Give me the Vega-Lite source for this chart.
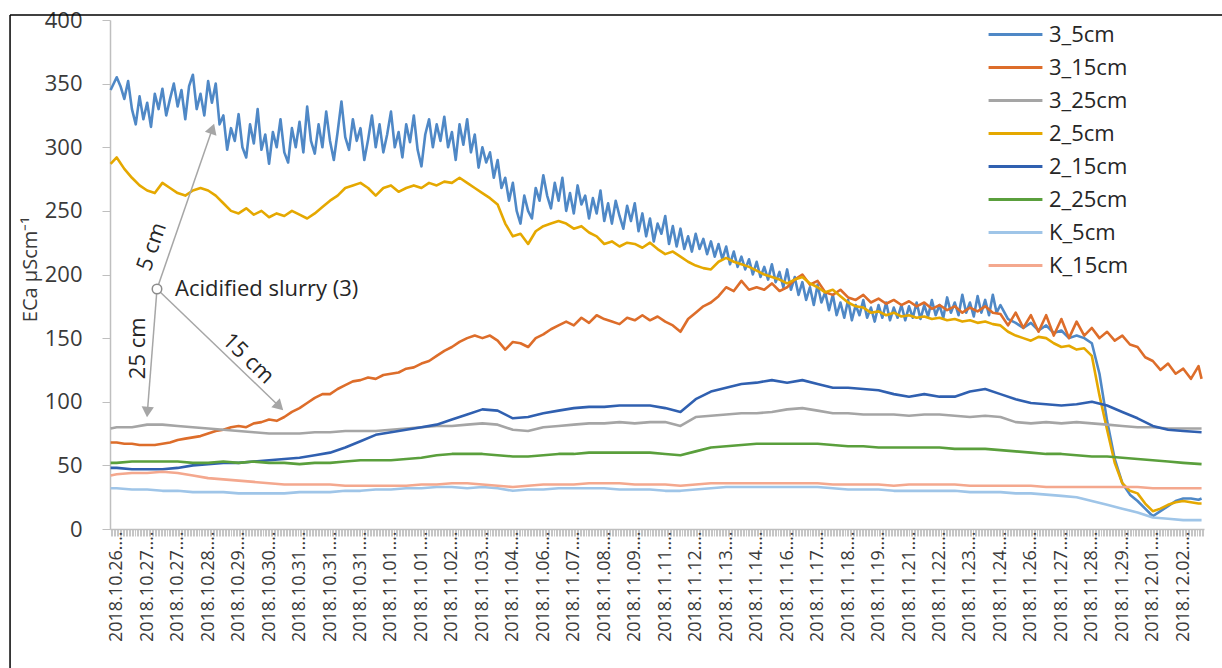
{
  "$schema": "https://vega.github.io/schema/vega-lite/v6.json",
  "width": 1094,
  "height": 509,
  "autosize": {"type": "none"},
  "padding": {"left": 110, "top": 20, "right": 18, "bottom": 139},
  "background": "white",
  "config": {"view": {"stroke": null}, "font": "Open Sans"},
  "datasets": {
    "blue": [
      {"u": -0.2, "3_5cm": 345}, {"u": 0, "3_5cm": 355}, {"u": 0.125, "3_5cm": 348}, {"u": 0.25, "3_5cm": 338},
      {"u": 0.375, "3_5cm": 352}, {"u": 0.5, "3_5cm": 330}, {"u": 0.625, "3_5cm": 318}, {"u": 0.75, "3_5cm": 340},
      {"u": 0.875, "3_5cm": 322}, {"u": 1, "3_5cm": 335}, {"u": 1.125, "3_5cm": 316}, {"u": 1.25, "3_5cm": 342},
      {"u": 1.375, "3_5cm": 330}, {"u": 1.5, "3_5cm": 346}, {"u": 1.625, "3_5cm": 325}, {"u": 1.75, "3_5cm": 338},
      {"u": 1.875, "3_5cm": 350}, {"u": 2, "3_5cm": 332}, {"u": 2.125, "3_5cm": 345}, {"u": 2.25, "3_5cm": 322},
      {"u": 2.375, "3_5cm": 348}, {"u": 2.5, "3_5cm": 357}, {"u": 2.625, "3_5cm": 330}, {"u": 2.75, "3_5cm": 342},
      {"u": 2.875, "3_5cm": 325}, {"u": 3, "3_5cm": 352}, {"u": 3.125, "3_5cm": 335}, {"u": 3.25, "3_5cm": 350},
      {"u": 3.375, "3_5cm": 318}, {"u": 3.5, "3_5cm": 325}, {"u": 3.625, "3_5cm": 298}, {"u": 3.75, "3_5cm": 315},
      {"u": 3.875, "3_5cm": 305}, {"u": 4, "3_5cm": 326}, {"u": 4.125, "3_5cm": 300}, {"u": 4.25, "3_5cm": 292},
      {"u": 4.375, "3_5cm": 318}, {"u": 4.5, "3_5cm": 303}, {"u": 4.625, "3_5cm": 330}, {"u": 4.75, "3_5cm": 298},
      {"u": 4.875, "3_5cm": 310}, {"u": 5, "3_5cm": 287}, {"u": 5.125, "3_5cm": 312}, {"u": 5.25, "3_5cm": 300},
      {"u": 5.375, "3_5cm": 322}, {"u": 5.5, "3_5cm": 296}, {"u": 5.625, "3_5cm": 288}, {"u": 5.75, "3_5cm": 315},
      {"u": 5.875, "3_5cm": 300}, {"u": 6, "3_5cm": 320}, {"u": 6.125, "3_5cm": 296}, {"u": 6.25, "3_5cm": 332},
      {"u": 6.375, "3_5cm": 305}, {"u": 6.5, "3_5cm": 295}, {"u": 6.625, "3_5cm": 318}, {"u": 6.75, "3_5cm": 300},
      {"u": 6.875, "3_5cm": 328}, {"u": 7, "3_5cm": 305}, {"u": 7.125, "3_5cm": 290}, {"u": 7.25, "3_5cm": 312},
      {"u": 7.375, "3_5cm": 336}, {"u": 7.5, "3_5cm": 308}, {"u": 7.625, "3_5cm": 298}, {"u": 7.75, "3_5cm": 322},
      {"u": 7.875, "3_5cm": 305}, {"u": 8, "3_5cm": 315}, {"u": 8.125, "3_5cm": 290}, {"u": 8.25, "3_5cm": 306},
      {"u": 8.375, "3_5cm": 325}, {"u": 8.5, "3_5cm": 300}, {"u": 8.625, "3_5cm": 318}, {"u": 8.75, "3_5cm": 296},
      {"u": 8.875, "3_5cm": 310}, {"u": 9, "3_5cm": 328}, {"u": 9.125, "3_5cm": 300}, {"u": 9.25, "3_5cm": 312},
      {"u": 9.375, "3_5cm": 292}, {"u": 9.5, "3_5cm": 318}, {"u": 9.625, "3_5cm": 304}, {"u": 9.75, "3_5cm": 325},
      {"u": 9.875, "3_5cm": 298}, {"u": 10, "3_5cm": 285}, {"u": 10.125, "3_5cm": 310}, {"u": 10.25, "3_5cm": 322},
      {"u": 10.375, "3_5cm": 300}, {"u": 10.5, "3_5cm": 318}, {"u": 10.625, "3_5cm": 305}, {"u": 10.75, "3_5cm": 324},
      {"u": 10.875, "3_5cm": 300}, {"u": 11, "3_5cm": 312}, {"u": 11.125, "3_5cm": 290}, {"u": 11.25, "3_5cm": 318},
      {"u": 11.375, "3_5cm": 302}, {"u": 11.5, "3_5cm": 322}, {"u": 11.625, "3_5cm": 296}, {"u": 11.75, "3_5cm": 310},
      {"u": 11.875, "3_5cm": 284}, {"u": 12, "3_5cm": 300}, {"u": 12.125, "3_5cm": 288}, {"u": 12.25, "3_5cm": 296},
      {"u": 12.375, "3_5cm": 276}, {"u": 12.5, "3_5cm": 290}, {"u": 12.625, "3_5cm": 268}, {"u": 12.75, "3_5cm": 276},
      {"u": 12.875, "3_5cm": 258}, {"u": 13, "3_5cm": 272}, {"u": 13.125, "3_5cm": 250}, {"u": 13.25, "3_5cm": 240},
      {"u": 13.375, "3_5cm": 262}, {"u": 13.5, "3_5cm": 250}, {"u": 13.625, "3_5cm": 244}, {"u": 13.75, "3_5cm": 268},
      {"u": 13.875, "3_5cm": 258}, {"u": 14, "3_5cm": 278}, {"u": 14.125, "3_5cm": 262}, {"u": 14.25, "3_5cm": 252},
      {"u": 14.375, "3_5cm": 272}, {"u": 14.5, "3_5cm": 258}, {"u": 14.625, "3_5cm": 276}, {"u": 14.75, "3_5cm": 250},
      {"u": 14.875, "3_5cm": 264}, {"u": 15, "3_5cm": 248}, {"u": 15.125, "3_5cm": 270}, {"u": 15.25, "3_5cm": 255},
      {"u": 15.375, "3_5cm": 262}, {"u": 15.5, "3_5cm": 244}, {"u": 15.625, "3_5cm": 260}, {"u": 15.75, "3_5cm": 248},
      {"u": 15.875, "3_5cm": 266}, {"u": 16, "3_5cm": 242}, {"u": 16.125, "3_5cm": 256}, {"u": 16.25, "3_5cm": 240},
      {"u": 16.375, "3_5cm": 258}, {"u": 16.5, "3_5cm": 246}, {"u": 16.625, "3_5cm": 236}, {"u": 16.75, "3_5cm": 254},
      {"u": 16.875, "3_5cm": 242}, {"u": 17, "3_5cm": 256}, {"u": 17.125, "3_5cm": 234}, {"u": 17.25, "3_5cm": 248},
      {"u": 17.375, "3_5cm": 230}, {"u": 17.5, "3_5cm": 244}, {"u": 17.625, "3_5cm": 226}, {"u": 17.75, "3_5cm": 240},
      {"u": 17.875, "3_5cm": 232}, {"u": 18, "3_5cm": 246}, {"u": 18.125, "3_5cm": 224}, {"u": 18.25, "3_5cm": 238},
      {"u": 18.375, "3_5cm": 222}, {"u": 18.5, "3_5cm": 236}, {"u": 18.625, "3_5cm": 220}, {"u": 18.75, "3_5cm": 230},
      {"u": 18.875, "3_5cm": 218}, {"u": 19, "3_5cm": 232}, {"u": 19.125, "3_5cm": 220}, {"u": 19.25, "3_5cm": 228},
      {"u": 19.375, "3_5cm": 216}, {"u": 19.5, "3_5cm": 226}, {"u": 19.625, "3_5cm": 214}, {"u": 19.75, "3_5cm": 224},
      {"u": 19.875, "3_5cm": 212}, {"u": 20, "3_5cm": 222}, {"u": 20.125, "3_5cm": 208}, {"u": 20.25, "3_5cm": 218},
      {"u": 20.375, "3_5cm": 206}, {"u": 20.5, "3_5cm": 214}, {"u": 20.625, "3_5cm": 204}, {"u": 20.75, "3_5cm": 212},
      {"u": 20.875, "3_5cm": 200}, {"u": 21, "3_5cm": 210}, {"u": 21.125, "3_5cm": 198}, {"u": 21.25, "3_5cm": 206},
      {"u": 21.375, "3_5cm": 196}, {"u": 21.5, "3_5cm": 208}, {"u": 21.625, "3_5cm": 194}, {"u": 21.75, "3_5cm": 202},
      {"u": 21.875, "3_5cm": 190}, {"u": 22, "3_5cm": 204}, {"u": 22.125, "3_5cm": 188}, {"u": 22.25, "3_5cm": 198},
      {"u": 22.375, "3_5cm": 184}, {"u": 22.5, "3_5cm": 194}, {"u": 22.625, "3_5cm": 180}, {"u": 22.75, "3_5cm": 190},
      {"u": 22.875, "3_5cm": 176}, {"u": 23, "3_5cm": 192}, {"u": 23.125, "3_5cm": 178}, {"u": 23.25, "3_5cm": 186},
      {"u": 23.375, "3_5cm": 172}, {"u": 23.5, "3_5cm": 184}, {"u": 23.625, "3_5cm": 168}, {"u": 23.75, "3_5cm": 178},
      {"u": 23.875, "3_5cm": 166}, {"u": 24, "3_5cm": 180}, {"u": 24.125, "3_5cm": 164}, {"u": 24.25, "3_5cm": 176},
      {"u": 24.375, "3_5cm": 168}, {"u": 24.5, "3_5cm": 180}, {"u": 24.625, "3_5cm": 166}, {"u": 24.75, "3_5cm": 174},
      {"u": 24.875, "3_5cm": 163}, {"u": 25, "3_5cm": 176}, {"u": 25.125, "3_5cm": 166}, {"u": 25.25, "3_5cm": 178},
      {"u": 25.375, "3_5cm": 164}, {"u": 25.5, "3_5cm": 174}, {"u": 25.625, "3_5cm": 166}, {"u": 25.75, "3_5cm": 176},
      {"u": 25.875, "3_5cm": 164}, {"u": 26, "3_5cm": 175}, {"u": 26.125, "3_5cm": 166}, {"u": 26.25, "3_5cm": 178},
      {"u": 26.375, "3_5cm": 165}, {"u": 26.5, "3_5cm": 176}, {"u": 26.625, "3_5cm": 167}, {"u": 26.75, "3_5cm": 180},
      {"u": 26.875, "3_5cm": 168}, {"u": 27, "3_5cm": 176}, {"u": 27.125, "3_5cm": 166}, {"u": 27.25, "3_5cm": 182},
      {"u": 27.375, "3_5cm": 170}, {"u": 27.5, "3_5cm": 178}, {"u": 27.625, "3_5cm": 168}, {"u": 27.75, "3_5cm": 184},
      {"u": 27.875, "3_5cm": 170}, {"u": 28, "3_5cm": 178}, {"u": 28.125, "3_5cm": 167}, {"u": 28.25, "3_5cm": 183},
      {"u": 28.375, "3_5cm": 170}, {"u": 28.5, "3_5cm": 180}, {"u": 28.625, "3_5cm": 168}, {"u": 28.75, "3_5cm": 184},
      {"u": 28.875, "3_5cm": 170}, {"u": 29, "3_5cm": 176}, {"u": 29.25, "3_5cm": 165}, {"u": 29.5, "3_5cm": 162},
      {"u": 29.75, "3_5cm": 158}, {"u": 30, "3_5cm": 162}, {"u": 30.25, "3_5cm": 156}, {"u": 30.5, "3_5cm": 160},
      {"u": 30.75, "3_5cm": 154}, {"u": 31, "3_5cm": 156}, {"u": 31.25, "3_5cm": 150}, {"u": 31.5, "3_5cm": 152},
      {"u": 31.75, "3_5cm": 150}, {"u": 32, "3_5cm": 146}, {"u": 32.25, "3_5cm": 122}, {"u": 32.5, "3_5cm": 85},
      {"u": 32.75, "3_5cm": 55}, {"u": 33, "3_5cm": 36}, {"u": 33.25, "3_5cm": 27}, {"u": 33.5, "3_5cm": 22},
      {"u": 33.75, "3_5cm": 16}, {"u": 34, "3_5cm": 10}, {"u": 34.25, "3_5cm": 14}, {"u": 34.5, "3_5cm": 18},
      {"u": 34.75, "3_5cm": 22}, {"u": 35, "3_5cm": 24}, {"u": 35.25, "3_5cm": 24}, {"u": 35.5, "3_5cm": 23},
      {"u": 35.6, "3_5cm": 24}
    ],
    "fine": [
      {"u": -0.2, "3_15cm": 68, "2_5cm": 287},
      {"u": 0, "3_15cm": 68, "2_5cm": 292},
      {"u": 0.25, "3_15cm": 67, "2_5cm": 283},
      {"u": 0.5, "3_15cm": 67, "2_5cm": 276},
      {"u": 0.75, "3_15cm": 66, "2_5cm": 270},
      {"u": 1, "3_15cm": 66, "2_5cm": 266},
      {"u": 1.25, "3_15cm": 66, "2_5cm": 264},
      {"u": 1.5, "3_15cm": 67, "2_5cm": 272},
      {"u": 1.75, "3_15cm": 68, "2_5cm": 268},
      {"u": 2, "3_15cm": 70, "2_5cm": 264},
      {"u": 2.25, "3_15cm": 71, "2_5cm": 262},
      {"u": 2.5, "3_15cm": 72, "2_5cm": 266},
      {"u": 2.75, "3_15cm": 73, "2_5cm": 268},
      {"u": 3, "3_15cm": 75, "2_5cm": 266},
      {"u": 3.25, "3_15cm": 77, "2_5cm": 262},
      {"u": 3.5, "3_15cm": 78, "2_5cm": 256},
      {"u": 3.75, "3_15cm": 80, "2_5cm": 250},
      {"u": 4, "3_15cm": 81, "2_5cm": 248},
      {"u": 4.25, "3_15cm": 80, "2_5cm": 252},
      {"u": 4.5, "3_15cm": 83, "2_5cm": 247},
      {"u": 4.75, "3_15cm": 84, "2_5cm": 250},
      {"u": 5, "3_15cm": 86, "2_5cm": 245},
      {"u": 5.25, "3_15cm": 85, "2_5cm": 248},
      {"u": 5.5, "3_15cm": 88, "2_5cm": 246},
      {"u": 5.75, "3_15cm": 92, "2_5cm": 250},
      {"u": 6, "3_15cm": 95, "2_5cm": 247},
      {"u": 6.25, "3_15cm": 99, "2_5cm": 244},
      {"u": 6.5, "3_15cm": 103, "2_5cm": 248},
      {"u": 6.75, "3_15cm": 106, "2_5cm": 253},
      {"u": 7, "3_15cm": 106, "2_5cm": 258},
      {"u": 7.25, "3_15cm": 110, "2_5cm": 262},
      {"u": 7.5, "3_15cm": 113, "2_5cm": 268},
      {"u": 7.75, "3_15cm": 116, "2_5cm": 270},
      {"u": 8, "3_15cm": 117, "2_5cm": 272},
      {"u": 8.25, "3_15cm": 119, "2_5cm": 268},
      {"u": 8.5, "3_15cm": 118, "2_5cm": 262},
      {"u": 8.75, "3_15cm": 121, "2_5cm": 268},
      {"u": 9, "3_15cm": 122, "2_5cm": 270},
      {"u": 9.25, "3_15cm": 123, "2_5cm": 265},
      {"u": 9.5, "3_15cm": 126, "2_5cm": 268},
      {"u": 9.75, "3_15cm": 127, "2_5cm": 270},
      {"u": 10, "3_15cm": 130, "2_5cm": 268},
      {"u": 10.25, "3_15cm": 132, "2_5cm": 272},
      {"u": 10.5, "3_15cm": 136, "2_5cm": 270},
      {"u": 10.75, "3_15cm": 140, "2_5cm": 273},
      {"u": 11, "3_15cm": 143, "2_5cm": 272},
      {"u": 11.25, "3_15cm": 147, "2_5cm": 276},
      {"u": 11.5, "3_15cm": 150, "2_5cm": 272},
      {"u": 11.75, "3_15cm": 152, "2_5cm": 268},
      {"u": 12, "3_15cm": 150, "2_5cm": 264},
      {"u": 12.25, "3_15cm": 152, "2_5cm": 260},
      {"u": 12.5, "3_15cm": 148, "2_5cm": 255},
      {"u": 12.75, "3_15cm": 141, "2_5cm": 240},
      {"u": 13, "3_15cm": 147, "2_5cm": 230},
      {"u": 13.25, "3_15cm": 146, "2_5cm": 232},
      {"u": 13.5, "3_15cm": 143, "2_5cm": 224},
      {"u": 13.75, "3_15cm": 150, "2_5cm": 234},
      {"u": 14, "3_15cm": 153, "2_5cm": 238},
      {"u": 14.25, "3_15cm": 157, "2_5cm": 240},
      {"u": 14.5, "3_15cm": 160, "2_5cm": 242},
      {"u": 14.75, "3_15cm": 163, "2_5cm": 240},
      {"u": 15, "3_15cm": 160, "2_5cm": 236},
      {"u": 15.25, "3_15cm": 166, "2_5cm": 238},
      {"u": 15.5, "3_15cm": 162, "2_5cm": 233},
      {"u": 15.75, "3_15cm": 168, "2_5cm": 230},
      {"u": 16, "3_15cm": 165, "2_5cm": 224},
      {"u": 16.25, "3_15cm": 163, "2_5cm": 226},
      {"u": 16.5, "3_15cm": 161, "2_5cm": 222},
      {"u": 16.75, "3_15cm": 166, "2_5cm": 225},
      {"u": 17, "3_15cm": 164, "2_5cm": 224},
      {"u": 17.25, "3_15cm": 168, "2_5cm": 221},
      {"u": 17.5, "3_15cm": 164, "2_5cm": 225},
      {"u": 17.75, "3_15cm": 167, "2_5cm": 220},
      {"u": 18, "3_15cm": 163, "2_5cm": 216},
      {"u": 18.25, "3_15cm": 160, "2_5cm": 218},
      {"u": 18.5, "3_15cm": 155, "2_5cm": 214},
      {"u": 18.75, "3_15cm": 165, "2_5cm": 210},
      {"u": 19, "3_15cm": 170, "2_5cm": 207},
      {"u": 19.25, "3_15cm": 175, "2_5cm": 205},
      {"u": 19.5, "3_15cm": 178, "2_5cm": 204},
      {"u": 19.75, "3_15cm": 183, "2_5cm": 210},
      {"u": 20, "3_15cm": 190, "2_5cm": 213},
      {"u": 20.25, "3_15cm": 187, "2_5cm": 210},
      {"u": 20.5, "3_15cm": 195, "2_5cm": 208},
      {"u": 20.75, "3_15cm": 188, "2_5cm": 206},
      {"u": 21, "3_15cm": 190, "2_5cm": 203},
      {"u": 21.25, "3_15cm": 188, "2_5cm": 200},
      {"u": 21.5, "3_15cm": 193, "2_5cm": 198},
      {"u": 21.75, "3_15cm": 187, "2_5cm": 196},
      {"u": 22, "3_15cm": 190, "2_5cm": 193},
      {"u": 22.25, "3_15cm": 196, "2_5cm": 196},
      {"u": 22.5, "3_15cm": 200, "2_5cm": 198},
      {"u": 22.75, "3_15cm": 192, "2_5cm": 193},
      {"u": 23, "3_15cm": 195, "2_5cm": 190},
      {"u": 23.25, "3_15cm": 186, "2_5cm": 186},
      {"u": 23.5, "3_15cm": 184, "2_5cm": 188},
      {"u": 23.75, "3_15cm": 188, "2_5cm": 183},
      {"u": 24, "3_15cm": 182, "2_5cm": 178},
      {"u": 24.25, "3_15cm": 180, "2_5cm": 175},
      {"u": 24.5, "3_15cm": 184, "2_5cm": 174},
      {"u": 24.75, "3_15cm": 178, "2_5cm": 170},
      {"u": 25, "3_15cm": 181, "2_5cm": 171},
      {"u": 25.25, "3_15cm": 177, "2_5cm": 168},
      {"u": 25.5, "3_15cm": 180, "2_5cm": 170},
      {"u": 25.75, "3_15cm": 176, "2_5cm": 167},
      {"u": 26, "3_15cm": 179, "2_5cm": 168},
      {"u": 26.25, "3_15cm": 175, "2_5cm": 166},
      {"u": 26.5, "3_15cm": 178, "2_5cm": 167},
      {"u": 26.75, "3_15cm": 173, "2_5cm": 165},
      {"u": 27, "3_15cm": 176, "2_5cm": 166},
      {"u": 27.25, "3_15cm": 172, "2_5cm": 164},
      {"u": 27.5, "3_15cm": 175, "2_5cm": 165},
      {"u": 27.75, "3_15cm": 170, "2_5cm": 163},
      {"u": 28, "3_15cm": 174, "2_5cm": 164},
      {"u": 28.25, "3_15cm": 171, "2_5cm": 162},
      {"u": 28.5, "3_15cm": 175, "2_5cm": 163},
      {"u": 28.75, "3_15cm": 170, "2_5cm": 161},
      {"u": 29, "3_15cm": 169, "2_5cm": 160},
      {"u": 29.25, "3_15cm": 160, "2_5cm": 155},
      {"u": 29.5, "3_15cm": 170, "2_5cm": 152},
      {"u": 29.75, "3_15cm": 158, "2_5cm": 150},
      {"u": 30, "3_15cm": 168, "2_5cm": 148},
      {"u": 30.25, "3_15cm": 155, "2_5cm": 151},
      {"u": 30.5, "3_15cm": 168, "2_5cm": 150},
      {"u": 30.75, "3_15cm": 152, "2_5cm": 146},
      {"u": 31, "3_15cm": 165, "2_5cm": 143},
      {"u": 31.25, "3_15cm": 150, "2_5cm": 144},
      {"u": 31.5, "3_15cm": 163, "2_5cm": 141},
      {"u": 31.75, "3_15cm": 152, "2_5cm": 142},
      {"u": 32, "3_15cm": 158, "2_5cm": 136},
      {"u": 32.25, "3_15cm": 150, "2_5cm": 105},
      {"u": 32.5, "3_15cm": 155, "2_5cm": 78},
      {"u": 32.75, "3_15cm": 148, "2_5cm": 52},
      {"u": 33, "3_15cm": 152, "2_5cm": 36},
      {"u": 33.25, "3_15cm": 145, "2_5cm": 30},
      {"u": 33.5, "3_15cm": 143, "2_5cm": 28},
      {"u": 33.75, "3_15cm": 135, "2_5cm": 20},
      {"u": 34, "3_15cm": 132, "2_5cm": 14},
      {"u": 34.25, "3_15cm": 125, "2_5cm": 16},
      {"u": 34.5, "3_15cm": 130, "2_5cm": 19},
      {"u": 34.75, "3_15cm": 122, "2_5cm": 21},
      {"u": 35, "3_15cm": 126, "2_5cm": 22},
      {"u": 35.25, "3_15cm": 118, "2_5cm": 21},
      {"u": 35.5, "3_15cm": 128, "2_5cm": 20},
      {"u": 35.6, "3_15cm": 118, "2_5cm": 20}
    ],
    "coarse": [
      {"u": -0.2, "3_25cm": 79, "2_15cm": 48, "2_25cm": 52, "K_5cm": 32, "K_15cm": 42},
      {"u": 0, "3_25cm": 80, "2_15cm": 48, "2_25cm": 52, "K_5cm": 32, "K_15cm": 43},
      {"u": 0.5, "3_25cm": 80, "2_15cm": 47, "2_25cm": 53, "K_5cm": 31, "K_15cm": 44},
      {"u": 1, "3_25cm": 82, "2_15cm": 47, "2_25cm": 53, "K_5cm": 31, "K_15cm": 44},
      {"u": 1.5, "3_25cm": 82, "2_15cm": 47, "2_25cm": 53, "K_5cm": 30, "K_15cm": 45},
      {"u": 2, "3_25cm": 81, "2_15cm": 48, "2_25cm": 53, "K_5cm": 30, "K_15cm": 44},
      {"u": 2.5, "3_25cm": 80, "2_15cm": 50, "2_25cm": 52, "K_5cm": 29, "K_15cm": 42},
      {"u": 3, "3_25cm": 79, "2_15cm": 51, "2_25cm": 52, "K_5cm": 29, "K_15cm": 40},
      {"u": 3.5, "3_25cm": 78, "2_15cm": 52, "2_25cm": 53, "K_5cm": 29, "K_15cm": 39},
      {"u": 4, "3_25cm": 77, "2_15cm": 52, "2_25cm": 52, "K_5cm": 28, "K_15cm": 38},
      {"u": 4.5, "3_25cm": 76, "2_15cm": 53, "2_25cm": 53, "K_5cm": 28, "K_15cm": 37},
      {"u": 5, "3_25cm": 75, "2_15cm": 54, "2_25cm": 52, "K_5cm": 28, "K_15cm": 36},
      {"u": 5.5, "3_25cm": 75, "2_15cm": 55, "2_25cm": 52, "K_5cm": 28, "K_15cm": 35},
      {"u": 6, "3_25cm": 75, "2_15cm": 56, "2_25cm": 51, "K_5cm": 29, "K_15cm": 35},
      {"u": 6.5, "3_25cm": 76, "2_15cm": 58, "2_25cm": 52, "K_5cm": 29, "K_15cm": 35},
      {"u": 7, "3_25cm": 76, "2_15cm": 60, "2_25cm": 52, "K_5cm": 29, "K_15cm": 35},
      {"u": 7.5, "3_25cm": 77, "2_15cm": 64, "2_25cm": 53, "K_5cm": 30, "K_15cm": 34},
      {"u": 8, "3_25cm": 77, "2_15cm": 69, "2_25cm": 54, "K_5cm": 30, "K_15cm": 34},
      {"u": 8.5, "3_25cm": 77, "2_15cm": 74, "2_25cm": 54, "K_5cm": 31, "K_15cm": 34},
      {"u": 9, "3_25cm": 78, "2_15cm": 76, "2_25cm": 54, "K_5cm": 31, "K_15cm": 34},
      {"u": 9.5, "3_25cm": 79, "2_15cm": 78, "2_25cm": 55, "K_5cm": 32, "K_15cm": 34},
      {"u": 10, "3_25cm": 80, "2_15cm": 80, "2_25cm": 56, "K_5cm": 32, "K_15cm": 35},
      {"u": 10.5, "3_25cm": 81, "2_15cm": 82, "2_25cm": 58, "K_5cm": 33, "K_15cm": 35},
      {"u": 11, "3_25cm": 81, "2_15cm": 86, "2_25cm": 59, "K_5cm": 33, "K_15cm": 36},
      {"u": 11.5, "3_25cm": 82, "2_15cm": 90, "2_25cm": 59, "K_5cm": 32, "K_15cm": 36},
      {"u": 12, "3_25cm": 83, "2_15cm": 94, "2_25cm": 59, "K_5cm": 33, "K_15cm": 35},
      {"u": 12.5, "3_25cm": 82, "2_15cm": 93, "2_25cm": 58, "K_5cm": 32, "K_15cm": 34},
      {"u": 13, "3_25cm": 78, "2_15cm": 87, "2_25cm": 57, "K_5cm": 30, "K_15cm": 33},
      {"u": 13.5, "3_25cm": 77, "2_15cm": 88, "2_25cm": 57, "K_5cm": 31, "K_15cm": 34},
      {"u": 14, "3_25cm": 80, "2_15cm": 91, "2_25cm": 58, "K_5cm": 31, "K_15cm": 35},
      {"u": 14.5, "3_25cm": 81, "2_15cm": 93, "2_25cm": 59, "K_5cm": 32, "K_15cm": 35},
      {"u": 15, "3_25cm": 82, "2_15cm": 95, "2_25cm": 59, "K_5cm": 32, "K_15cm": 35},
      {"u": 15.5, "3_25cm": 83, "2_15cm": 96, "2_25cm": 60, "K_5cm": 32, "K_15cm": 36},
      {"u": 16, "3_25cm": 83, "2_15cm": 96, "2_25cm": 60, "K_5cm": 32, "K_15cm": 36},
      {"u": 16.5, "3_25cm": 84, "2_15cm": 97, "2_25cm": 60, "K_5cm": 31, "K_15cm": 36},
      {"u": 17, "3_25cm": 83, "2_15cm": 97, "2_25cm": 60, "K_5cm": 31, "K_15cm": 35},
      {"u": 17.5, "3_25cm": 84, "2_15cm": 97, "2_25cm": 60, "K_5cm": 31, "K_15cm": 35},
      {"u": 18, "3_25cm": 84, "2_15cm": 95, "2_25cm": 59, "K_5cm": 30, "K_15cm": 35},
      {"u": 18.5, "3_25cm": 81, "2_15cm": 92, "2_25cm": 58, "K_5cm": 30, "K_15cm": 34},
      {"u": 19, "3_25cm": 88, "2_15cm": 102, "2_25cm": 61, "K_5cm": 31, "K_15cm": 35},
      {"u": 19.5, "3_25cm": 89, "2_15cm": 108, "2_25cm": 64, "K_5cm": 32, "K_15cm": 36},
      {"u": 20, "3_25cm": 90, "2_15cm": 111, "2_25cm": 65, "K_5cm": 33, "K_15cm": 36},
      {"u": 20.5, "3_25cm": 91, "2_15cm": 114, "2_25cm": 66, "K_5cm": 33, "K_15cm": 36},
      {"u": 21, "3_25cm": 91, "2_15cm": 115, "2_25cm": 67, "K_5cm": 33, "K_15cm": 36},
      {"u": 21.5, "3_25cm": 92, "2_15cm": 117, "2_25cm": 67, "K_5cm": 33, "K_15cm": 36},
      {"u": 22, "3_25cm": 94, "2_15cm": 115, "2_25cm": 67, "K_5cm": 33, "K_15cm": 36},
      {"u": 22.5, "3_25cm": 95, "2_15cm": 117, "2_25cm": 67, "K_5cm": 33, "K_15cm": 36},
      {"u": 23, "3_25cm": 93, "2_15cm": 114, "2_25cm": 67, "K_5cm": 33, "K_15cm": 36},
      {"u": 23.5, "3_25cm": 91, "2_15cm": 111, "2_25cm": 66, "K_5cm": 32, "K_15cm": 35},
      {"u": 24, "3_25cm": 91, "2_15cm": 111, "2_25cm": 65, "K_5cm": 31, "K_15cm": 35},
      {"u": 24.5, "3_25cm": 90, "2_15cm": 110, "2_25cm": 65, "K_5cm": 31, "K_15cm": 35},
      {"u": 25, "3_25cm": 90, "2_15cm": 109, "2_25cm": 64, "K_5cm": 31, "K_15cm": 35},
      {"u": 25.5, "3_25cm": 90, "2_15cm": 106, "2_25cm": 64, "K_5cm": 30, "K_15cm": 34},
      {"u": 26, "3_25cm": 89, "2_15cm": 104, "2_25cm": 64, "K_5cm": 30, "K_15cm": 35},
      {"u": 26.5, "3_25cm": 90, "2_15cm": 106, "2_25cm": 64, "K_5cm": 30, "K_15cm": 35},
      {"u": 27, "3_25cm": 90, "2_15cm": 104, "2_25cm": 64, "K_5cm": 30, "K_15cm": 35},
      {"u": 27.5, "3_25cm": 89, "2_15cm": 104, "2_25cm": 63, "K_5cm": 30, "K_15cm": 35},
      {"u": 28, "3_25cm": 88, "2_15cm": 108, "2_25cm": 63, "K_5cm": 29, "K_15cm": 34},
      {"u": 28.5, "3_25cm": 89, "2_15cm": 110, "2_25cm": 63, "K_5cm": 29, "K_15cm": 34},
      {"u": 29, "3_25cm": 88, "2_15cm": 106, "2_25cm": 62, "K_5cm": 29, "K_15cm": 34},
      {"u": 29.5, "3_25cm": 84, "2_15cm": 102, "2_25cm": 61, "K_5cm": 28, "K_15cm": 34},
      {"u": 30, "3_25cm": 83, "2_15cm": 99, "2_25cm": 60, "K_5cm": 28, "K_15cm": 34},
      {"u": 30.5, "3_25cm": 84, "2_15cm": 98, "2_25cm": 59, "K_5cm": 27, "K_15cm": 33},
      {"u": 31, "3_25cm": 83, "2_15cm": 97, "2_25cm": 59, "K_5cm": 26, "K_15cm": 33},
      {"u": 31.5, "3_25cm": 84, "2_15cm": 98, "2_25cm": 58, "K_5cm": 25, "K_15cm": 33},
      {"u": 32, "3_25cm": 83, "2_15cm": 100, "2_25cm": 57, "K_5cm": 22, "K_15cm": 33},
      {"u": 32.5, "3_25cm": 82, "2_15cm": 97, "2_25cm": 57, "K_5cm": 19, "K_15cm": 33},
      {"u": 33, "3_25cm": 81, "2_15cm": 92, "2_25cm": 56, "K_5cm": 16, "K_15cm": 33},
      {"u": 33.5, "3_25cm": 80, "2_15cm": 87, "2_25cm": 55, "K_5cm": 13, "K_15cm": 33},
      {"u": 34, "3_25cm": 80, "2_15cm": 81, "2_25cm": 54, "K_5cm": 9, "K_15cm": 32},
      {"u": 34.5, "3_25cm": 79, "2_15cm": 78, "2_25cm": 53, "K_5cm": 8, "K_15cm": 32},
      {"u": 35, "3_25cm": 79, "2_15cm": 77, "2_25cm": 52, "K_5cm": 7, "K_15cm": 32},
      {"u": 35.6, "3_25cm": 79, "2_15cm": 76, "2_25cm": 51, "K_5cm": 7, "K_15cm": 32}
    ],
    "frame": [
      {"u": -3.5, "v": 403.9, "u2": 36.6, "v2": 403.9},
      {"u": -3.5, "v": 403.9, "u2": -3.5, "v2": -120}
    ],
    "arrows": [
      {"u": 1.322, "v": 188.6, "u2": 3.14, "v2": 314.6},
      {"u": 1.322, "v": 188.6, "u2": 1.007, "v2": 91.9},
      {"u": 1.322, "v": 188.6, "u2": 5.339, "v2": 96.3}
    ]
  },
  "encoding": {
    "x": {
      "field": "u",
      "type": "quantitative",
      "scale": {"domain": [-0.22, 35.68], "nice": false, "zero": false},
      "axis": {
        "title": null,
        "grid": false,
        "tickCount": 700,
        "labelExpr": "abs(datum.value - round(datum.value)) < 0.001 && datum.value >= 0 && datum.value <= 35 ? ['2018.10.26.…','2018.10.27.…','2018.10.27.…','2018.10.28.…','2018.10.29.…','2018.10.30.…','2018.10.31.…','2018.10.31.…','2018.10.31.…','2018.11.01.…','2018.11.01.…','2018.11.02.…','2018.11.03.…','2018.11.04.…','2018.11.06.…','2018.11.07.…','2018.11.08.…','2018.11.09.…','2018.11.11.…','2018.11.12.…','2018.11.13.…','2018.11.14.…','2018.11.16.…','2018.11.17.…','2018.11.18.…','2018.11.19.…','2018.11.21.…','2018.11.22.…','2018.11.23.…','2018.11.24.…','2018.11.26.…','2018.11.27.…','2018.11.28.…','2018.11.29.…','2018.12.01.…','2018.12.02.…'][round(datum.value)] : ''",
        "labelAngle": -90,
        "labelAlign": "right",
        "labelBaseline": "middle",
        "labelFontSize": 18,
        "labelColor": "#3a3a3a",
        "labelPadding": -5,
        "labelOverlap": false,
        "labelFlush": false,
        "labelBound": false,
        "tickSize": 7,
        "tickColor": "#c6c6c6",
        "tickWidth": 1,
        "domainColor": "#bfbfbf",
        "domainWidth": 1.5
      }
    },
    "y": {
      "field": "v",
      "type": "quantitative",
      "scale": {"domain": [0, 400], "nice": false, "zero": false},
      "axis": {
        "title": "ECa µScm⁻¹",
        "grid": false,
        "values": [0, 50, 100, 150, 200, 250, 300, 350, 400],
        "labelFontSize": 22,
        "labelColor": "#3a3a3a",
        "labelPadding": 20,
        "tickSize": 8,
        "tickColor": "#bfbfbf",
        "domainColor": "#bfbfbf",
        "domainWidth": 1.5,
        "titleFontSize": 20,
        "titleFontWeight": "normal",
        "titleColor": "#3a3a3a",
        "titlePadding": 4,
        "titleY": 249
      }
    }
  },
  "layer": [
    {
      "data": {"name": "frame"},
      "mark": {"type": "rule", "color": "#000000", "strokeWidth": 1.5},
      "encoding": {"x2": {"field": "u2"}, "y2": {"field": "v2"}}
    },
    {
      "data": {"name": "blue"},
      "transform": [{"fold": ["3_5cm"], "as": ["k", "v"]}],
      "mark": {"type": "line", "strokeWidth": 2.6, "strokeJoin": "round"},
      "encoding": {
        "color": {
          "field": "k",
          "type": "nominal",
          "scale": {
            "domain": ["3_5cm", "3_15cm", "3_25cm", "2_5cm", "2_15cm", "2_25cm", "K_5cm", "K_15cm"],
            "range": ["#4f88c6", "#dd6d2a", "#a5a5a5", "#e5a800", "#3060b0", "#5a9f3c", "#9fc5e8", "#f4a88e"]
          },
          "legend": {
            "title": null,
            "orient": "none",
            "legendX": 877,
            "legendY": -2,
            "padding": 0,
            "symbolType": "stroke",
            "symbolSize": 2900,
            "symbolStrokeWidth": 3,
            "labelFontSize": 22,
            "labelColor": "#262626",
            "labelOffset": 5,
            "rowPadding": 0,
            "clipHeight": 33
          }
        }
      }
    },
    {
      "data": {"name": "fine"},
      "transform": [{"fold": ["3_15cm", "2_5cm"], "as": ["k", "v"]}],
      "mark": {"type": "line", "strokeWidth": 2.6, "strokeJoin": "round"},
      "encoding": {"color": {"field": "k", "type": "nominal"}}
    },
    {
      "data": {"name": "coarse"},
      "transform": [{"fold": ["3_25cm", "2_15cm", "2_25cm", "K_5cm", "K_15cm"], "as": ["k", "v"]}],
      "mark": {"type": "line", "strokeWidth": 2.6, "strokeJoin": "round"},
      "encoding": {"color": {"field": "k", "type": "nominal"}}
    },
    {
      "data": {"name": "arrows"},
      "mark": {"type": "rule", "color": "#a6a6a6", "strokeWidth": 1.5},
      "encoding": {"x2": {"field": "u2"}, "y2": {"field": "v2"}}
    },
    {
      "data": {"values": [{"u": 3.14, "v": 314.6}]},
      "mark": {"type": "point", "shape": "triangle-up", "filled": true, "color": "#a6a6a6", "opacity": 1, "size": 150, "angle": 19}
    },
    {
      "data": {"values": [{"u": 1.007, "v": 91.9}]},
      "mark": {"type": "point", "shape": "triangle-up", "filled": true, "color": "#a6a6a6", "opacity": 1, "size": 150, "angle": 184}
    },
    {
      "data": {"values": [{"u": 5.339, "v": 96.3}]},
      "mark": {"type": "point", "shape": "triangle-up", "filled": true, "color": "#a6a6a6", "opacity": 1, "size": 150, "angle": 134}
    },
    {
      "data": {"values": [{"u": 1.322, "v": 188.6}]},
      "mark": {"type": "point", "shape": "circle", "fill": "white", "stroke": "#8c8c8c", "strokeWidth": 1.5, "opacity": 1, "fillOpacity": 1, "size": 90}
    },
    {
      "data": {"values": [{"u": 1.913, "v": 188.6, "t": "Acidified slurry (3)"}]},
      "mark": {"type": "text", "align": "left", "baseline": "middle", "fontSize": 22, "color": "#262626"},
      "encoding": {"text": {"field": "t"}}
    },
    {
      "data": {"values": [{"u": 1.148, "v": 221.8, "t": "5 cm"}]},
      "mark": {"type": "text", "align": "center", "baseline": "middle", "fontSize": 22, "color": "#262626", "angle": -71},
      "encoding": {"text": {"field": "t"}}
    },
    {
      "data": {"values": [{"u": 0.709, "v": 142.0, "t": "25 cm"}]},
      "mark": {"type": "text", "align": "center", "baseline": "middle", "fontSize": 22, "color": "#262626", "angle": -90},
      "encoding": {"text": {"field": "t"}}
    },
    {
      "data": {"values": [{"u": 4.318, "v": 134.1, "t": "15 cm"}]},
      "mark": {"type": "text", "align": "center", "baseline": "middle", "fontSize": 22, "color": "#262626", "angle": 44},
      "encoding": {"text": {"field": "t"}}
    }
  ]
}
